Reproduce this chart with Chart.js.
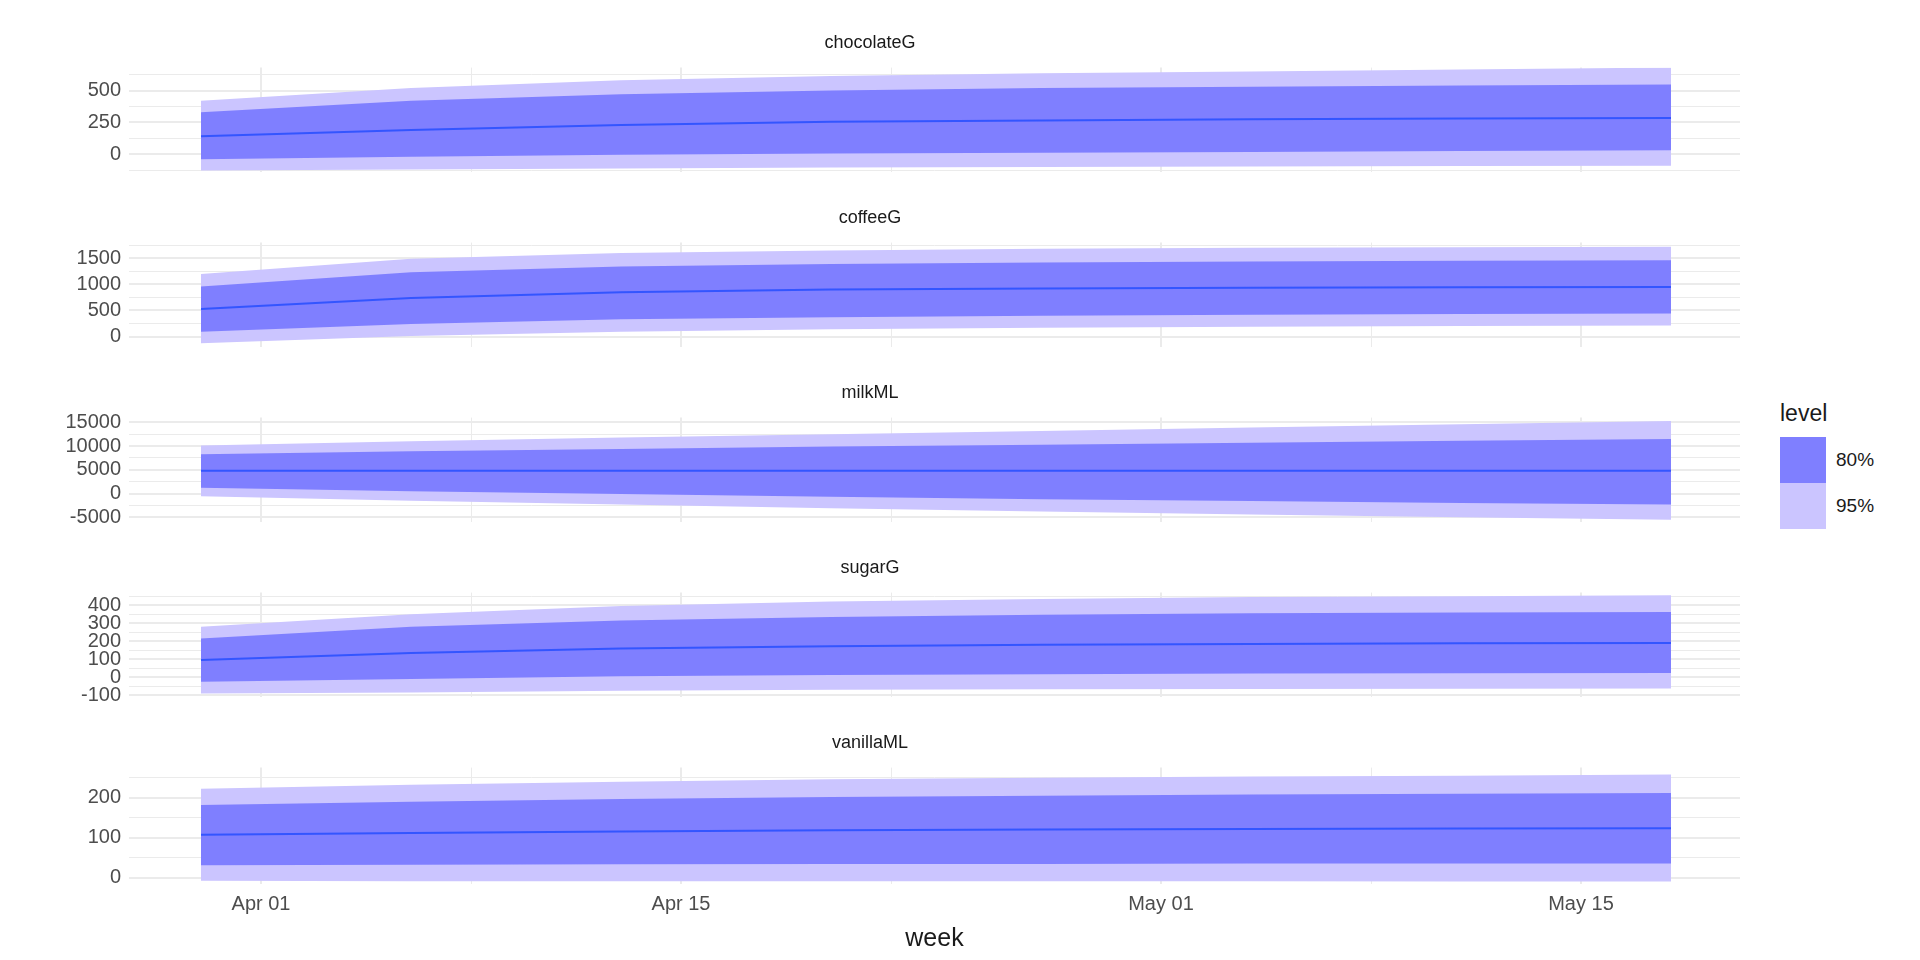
<!DOCTYPE html>
<html>
<head>
<meta charset="utf-8">
<script src="https://cdn.jsdelivr.net/npm/chart.js@4/dist/chart.umd.min.js"></script>
<style>
  body { margin: 0; background: #fff; font-family: "Liberation Sans", Arial, sans-serif; }
  #wrap { position: relative; width: 1920px; height: 960px; }
  .panel { position: absolute; left: 0; width: 1760px; }
  #legend { position: absolute; left: 1780px; top: 400px; color: #1a1a1a; }
  #legend .ttl { font-size: 23px; margin-bottom: 10px; }
  #legend .row { display: flex; align-items: center; height: 46px; font-size: 19px; }
  #legend .sw { width: 46px; height: 46px; margin-right: 10px; }
</style>
</head>
<body>
<div id="wrap">
  <div id="legend">
    <div class="ttl">level</div>
    <div class="row"><div class="sw" style="background:#7f7fff"></div>80%</div>
    <div class="row"><div class="sw" style="background:#cbc5ff"></div>95%</div>
  </div>
</div>
<script>
// x values are days since Apr 01 (weekly forecasts from Mar 30)
const weekDays = [-2, 5, 12, 19, 26, 33, 40, 47];
const tickDays = [0, 7, 14, 21, 30, 37, 44];
const tickLabels = ['Apr 01', '', 'Apr 15', '', 'May 01', '', 'May 15'];
const panelNames = ['chocolateG', 'coffeeG', 'milkML', 'sugarG', 'vanillaML'];

const chocMean = [140, 190, 230, 255, 265, 275, 280, 285];
const chocHi80 = [330, 420, 470, 500, 520, 530, 540, 548];
const chocLo80 = [-40, -20, -5, 5, 12, 18, 24, 30];
const chocHi95 = [420, 520, 580, 615, 635, 650, 665, 680];
const chocLo95 = [-128, -120, -112, -105, -100, -96, -93, -90];

const coffMean = [530, 740, 850, 900, 920, 935, 945, 950];
const coffHi80 = [960, 1230, 1340, 1390, 1420, 1440, 1450, 1460];
const coffLo80 = [90, 240, 330, 370, 400, 420, 430, 440];
const coffHi95 = [1200, 1490, 1600, 1650, 1680, 1700, 1710, 1720];
const coffLo95 = [-130, 10, 90, 140, 170, 190, 200, 210];

const milkMean = [4800, 4800, 4800, 4800, 4800, 4800, 4800, 4800];
const milkHi80 = [8300, 8900, 9400, 9900, 10300, 10700, 11100, 11500];
const milkLo80 = [1200, 500, -100, -700, -1200, -1600, -2000, -2300];
const milkHi95 = [10100, 11000, 11800, 12500, 13200, 13900, 14600, 15300];
const milkLo95 = [-600, -1500, -2300, -3100, -3800, -4400, -5000, -5500];

const sugarMean = [95, 135, 160, 172, 180, 185, 188, 190];
const sugarHi80 = [215, 280, 315, 335, 347, 355, 360, 362];
const sugarLo80 = [-25, -10, 5, 12, 17, 20, 22, 23];
const sugarHi95 = [280, 350, 395, 420, 435, 445, 450, 455];
const sugarLo95 = [-90, -85, -75, -70, -67, -65, -64, -63];

const vanMean = [108, 112, 116, 119, 121, 122, 123, 124];
const vanHi80 = [182, 190, 197, 202, 205, 208, 210, 212];
const vanLo80 = [32, 33, 34, 35, 35, 36, 36, 36];
const vanHi95 = [222, 232, 240, 246, 250, 253, 255, 258];
const vanLo95 = [-7, -8, -8, -8, -8, -8, -9, -9];

const series = [
  [chocMean, chocHi80, chocLo80, chocHi95, chocLo95],
  [coffMean, coffHi80, coffLo80, coffHi95, coffLo95],
  [milkMean, milkHi80, milkLo80, milkHi95, milkLo95],
  [sugarMean, sugarHi80, sugarLo80, sugarHi95, sugarLo95],
  [vanMean, vanHi80, vanLo80, vanHi95, vanLo95]
];
// y ranges and major/minor step per panel
const yMin = [-140, -200, -6000, -110, -15];
const yMax = [680, 1800, 16000, 470, 275];
const yStep = [125, 250, 2500, 50, 50];
const yLabelStep = [250, 500, 5000, 100, 100];

const wrap = document.getElementById('wrap');
const pts = arr => arr.map((v, i) => ({ x: weekDays[i], y: v }));
const band = (data, fill, color, order) => ({
  data: pts(data), fill: fill, backgroundColor: color, borderWidth: 0, pointRadius: 0, tension: 0, order: order
});

panelNames.forEach((name, p) => {
  const last = p === panelNames.length - 1;
  const div = document.createElement('div');
  div.className = 'panel';
  div.style.top = (32 + p * 175) + 'px';
  div.style.height = (last ? 226 : 160) + 'px';
  const cv = document.createElement('canvas');
  div.appendChild(cv);
  wrap.appendChild(div);
  const [mean, hi80, lo80, hi95, lo95] = series[p];
  new Chart(cv, {
    type: 'line',
    data: {
      datasets: [
        band(hi80, '+1', '#7f7fff', 1),
        band(lo80, false, '#7f7fff', 1),
        band(hi95, '+1', '#cbc5ff', 2),
        band(lo95, false, '#cbc5ff', 2),
        { data: pts(mean), borderColor: '#3355ff', borderWidth: 2, pointRadius: 0, fill: false, tension: 0, order: 0 }
      ]
    },
    options: {
      responsive: true,
      maintainAspectRatio: false,
      animation: false,
      layout: { padding: { left: 0, right: 20, top: 0, bottom: 0 } },
      plugins: {
        legend: { display: false },
        tooltip: { enabled: false },
        title: {
          display: true, text: name, color: '#1a1a1a',
          font: { family: 'Liberation Sans', size: 18, weight: 'normal' }, padding: { top: 0, bottom: 14 }
        }
      },
      scales: {
        x: {
          type: 'linear', min: -4.4, max: 49.3,
          afterBuildTicks: ax => { ax.ticks = tickDays.map(v => ({ value: v })); },
          border: { display: false },
          grid: {
            color: '#ebebeb',
            lineWidth: ctx => (ctx.tick && tickLabels[tickDays.indexOf(ctx.tick.value)] === '' ? 1 : 2),
            drawTicks: false
          },
          ticks: {
            display: last, color: '#4d4d4d', padding: 8, maxRotation: 0, autoSkip: false,
            font: { family: 'Liberation Sans', size: 20 },
            callback: v => tickLabels[tickDays.indexOf(v)]
          },
          title: {
            display: last, text: 'week', color: '#1a1a1a',
            font: { family: 'Liberation Sans', size: 25 }, padding: { top: 0 }
          }
        },
        y: {
          min: yMin[p], max: yMax[p],
          afterBuildTicks: ax => {
            const t = [];
            const s = yStep[p];
            for (let v = Math.ceil(yMin[p] / s) * s; v <= yMax[p]; v += s) t.push({ value: v });
            ax.ticks = t;
          },
          afterFit: ax => { ax.width = 129; },
          border: { display: false },
          grid: {
            color: '#ebebeb', drawTicks: false,
            lineWidth: ctx => (ctx.tick && ctx.tick.value % yLabelStep[p] === 0 ? 2 : 1)
          },
          ticks: {
            color: '#4d4d4d', padding: 8, autoSkip: false,
            font: { family: 'Liberation Sans', size: 20 },
            callback: v => (v % yLabelStep[p] === 0 ? String(v) : '')
          }
        }
      }
    }
  });
});
</script>
</body>
</html>
